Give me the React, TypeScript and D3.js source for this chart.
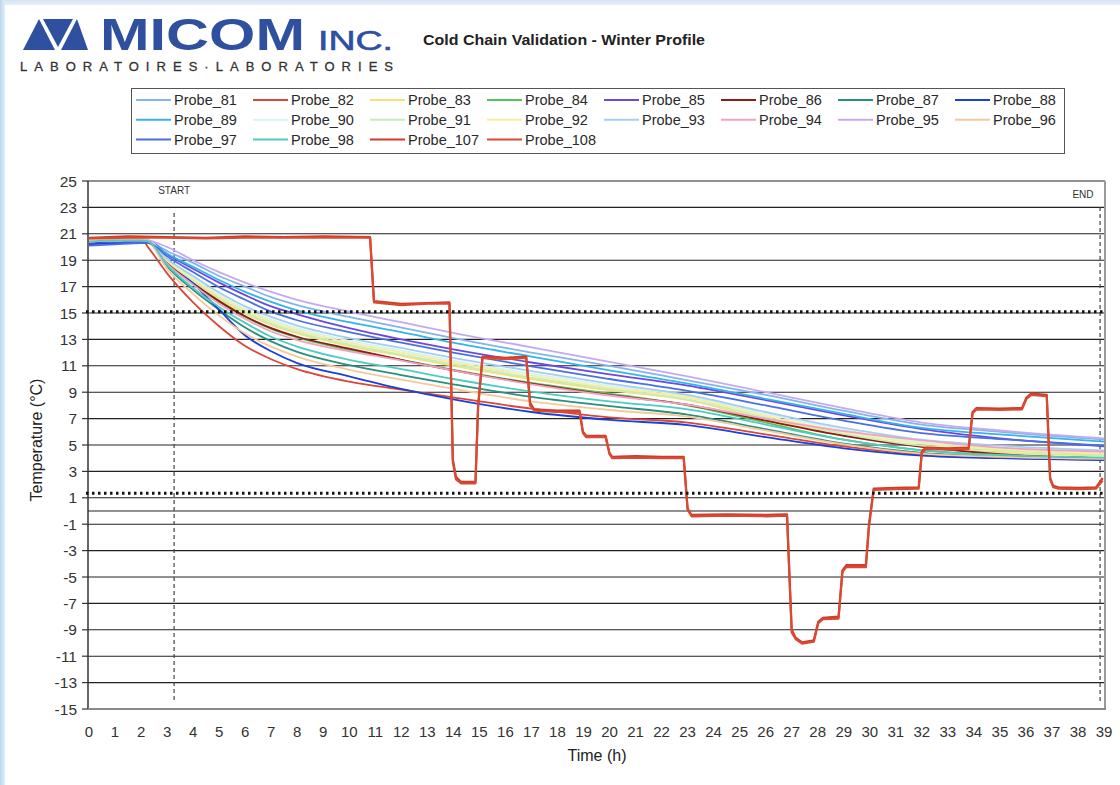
import React from 'react';
import * as d3 from 'd3';

const W = 1120;
const H = 785;

// hours at which the cooling probes were read
const TIMES = [0, 1, 2, 2.3, 3, 4, 5, 6, 7, 8, 10, 12, 14, 17, 20, 23, 26, 29, 32, 35, 39];

const P81 = [20.4, 20.5, 20.5, 20.4, 19.7, 18.8, 17.8, 17.0, 16.2, 15.6, 14.7, 13.9, 13.1, 12.0, 11.0, 9.9, 8.8, 7.6, 6.55, 6.0, 5.4];
const P82 = [20.6, 20.7, 20.6, 19.9, 18.0, 15.8, 14.0, 12.5, 11.5, 10.75, 9.8, 9.2, 8.6, 7.75, 7.1, 6.7, 5.8, 4.9, 4.3, 4.05, 3.9];
const P83 = [20.5, 20.6, 20.6, 20.5, 18.9, 17.4, 16.05, 14.95, 14.1, 13.45, 12.5, 11.75, 11.0, 10.0, 9.15, 8.4, 6.95, 5.8, 4.9, 4.45, 4.2];
const P84 = [20.5, 20.5, 20.6, 20.4, 18.8, 17.2, 15.85, 14.7, 13.8, 13.15, 12.2, 11.45, 10.7, 9.7, 8.9, 8.0, 6.7, 5.4, 4.6, 4.25, 4.0];
const P85 = [20.3, 20.4, 20.4, 20.4, 19.45, 18.35, 17.3, 16.35, 15.5, 14.9, 13.85, 13.0, 12.25, 11.25, 10.35, 9.5, 8.4, 7.25, 6.2, 5.5, 4.9];
const P86 = [20.5, 20.6, 20.6, 20.4, 18.85, 17.25, 15.9, 14.75, 13.85, 13.2, 12.3, 11.45, 10.65, 9.65, 8.8, 8.05, 6.85, 5.7, 4.85, 4.3, 4.0];
const P87 = [20.5, 20.5, 20.6, 20.4, 18.55, 16.75, 15.25, 13.9, 12.85, 12.05, 11.05, 10.3, 9.6, 8.65, 7.95, 7.3, 6.2, 5.1, 4.4, 4.1, 3.9];
const P88 = [20.2, 20.3, 20.3, 20.3, 19.0, 17.25, 15.25, 13.3, 12.1, 11.2, 10.2, 9.25, 8.45, 7.5, 6.9, 6.5, 5.6, 4.75, 4.2, 4.0, 3.85];
const P89 = [20.4, 20.5, 20.5, 20.4, 19.5, 18.5, 17.5, 16.6, 15.85, 15.2, 14.3, 13.55, 12.75, 11.7, 10.65, 9.65, 8.5, 7.35, 6.3, 5.8, 5.25];
const P90 = [20.5, 20.5, 20.6, 20.5, 19.05, 17.65, 16.4, 15.3, 14.5, 13.85, 12.9, 12.15, 11.4, 10.4, 9.5, 8.7, 7.35, 6.15, 5.2, 4.8, 4.5];
const P91 = [20.5, 20.5, 20.6, 20.5, 18.95, 17.45, 16.15, 15.05, 14.2, 13.55, 12.6, 11.85, 11.1, 10.1, 9.25, 8.45, 7.1, 5.85, 4.95, 4.6, 4.25];
const P92 = [20.5, 20.6, 20.6, 20.5, 19.0, 17.55, 16.25, 15.2, 14.35, 13.7, 12.75, 12.0, 11.25, 10.25, 9.35, 8.6, 7.2, 6.0, 5.1, 4.7, 4.35];
const P93 = [20.4, 20.5, 20.5, 20.4, 19.1, 17.8, 16.55, 15.5, 14.7, 14.05, 13.1, 12.35, 11.6, 10.6, 9.65, 8.8, 7.5, 6.3, 5.4, 4.95, 4.6];
const P94 = [20.4, 20.5, 20.5, 20.4, 18.75, 17.15, 15.7, 14.55, 13.6, 12.95, 12.1, 11.4, 10.65, 9.6, 8.75, 8.05, 7.0, 6.05, 5.35, 4.8, 4.5];
const P95 = [20.5, 20.6, 20.6, 20.5, 20.0, 19.0, 18.1, 17.3, 16.6, 16.0, 15.1, 14.3, 13.5, 12.4, 11.3, 10.2, 9.0, 7.8, 6.7, 6.1, 5.5];
const P96 = [20.5, 20.6, 20.6, 20.4, 18.35, 16.45, 14.8, 13.45, 12.45, 11.7, 10.7, 9.95, 9.25, 8.3, 7.65, 7.15, 6.1, 5.05, 4.35, 4.1, 3.95];
const P97 = [20.1, 20.2, 20.3, 20.3, 19.3, 18.1, 16.95, 16.0, 15.1, 14.45, 13.55, 12.75, 12.0, 10.95, 10.0, 9.1, 8.0, 6.85, 5.9, 5.45, 4.95];
const P98 = [20.4, 20.5, 20.5, 20.4, 18.65, 16.9, 15.45, 14.25, 13.2, 12.45, 11.45, 10.75, 10.0, 9.05, 8.3, 7.7, 6.55, 5.4, 4.6, 4.25, 4.05];

// the two excursion probes (stepped profile)
const T_STEP = [
  0, 1.5, 3, 4.5, 6, 7.5, 9, 10.8,
  10.95, 12, 13, 13.85,
  13.98, 14.1, 14.3, 14.85,
  14.95, 15.12, 16, 16.8,
  16.95, 17.1, 18, 18.85,
  18.98, 19.1, 19.85, 20.0,
  20.1, 21, 22, 22.85,
  23.0, 23.15, 24.5, 26,
  26.82, 27.0, 27.15, 27.4,
  27.85, 28.02, 28.2, 28.8,
  28.95, 29.1, 29.85, 29.97,
  30.15, 31, 31.88, 32.0,
  32.15, 33, 33.8, 33.95,
  34.1, 35, 35.85, 36.02,
  36.2, 36.8, 36.93, 37.05,
  37.25, 38, 38.7, 38.95,
];
const P107 = [
  20.7, 20.8, 20.75, 20.7, 20.8, 20.75, 20.8, 20.75,
  15.9, 15.7, 15.75, 15.8,
  3.9, 2.6, 2.2, 2.2,
  8.0, 11.7, 11.6, 11.7,
  8.2, 7.7, 7.6, 7.6,
  6.0, 5.7, 5.7, 4.4,
  4.1, 4.15, 4.1, 4.1,
  0.2, -0.3, -0.25, -0.3,
  -0.25, -9.0, -9.6, -9.95,
  -9.8, -8.4, -8.1, -8.0,
  -4.5, -4.1, -4.1, -1.0,
  1.7, 1.75, 1.8, 4.5,
  4.8, 4.75, 4.8, 7.5,
  7.8, 7.75, 7.8, 8.6,
  8.9, 8.8, 2.5, 1.9,
  1.8, 1.75, 1.8, 2.5,
];
const P108 = [
  20.65, 20.7, 20.7, 20.65, 20.7, 20.7, 20.7, 20.7,
  15.8, 15.6, 15.7, 15.7,
  3.7, 2.4, 2.1, 2.1,
  7.8, 11.6, 11.5, 11.6,
  8.0, 7.6, 7.5, 7.5,
  5.9, 5.6, 5.6, 4.3,
  4.0, 4.05, 4.0, 4.0,
  0.1, -0.4, -0.35, -0.4,
  -0.35, -9.2, -9.7, -10.05,
  -9.9, -8.5, -8.2, -8.15,
  -4.6, -4.25, -4.25, -1.2,
  1.6, 1.65, 1.7, 4.4,
  4.7, 4.65, 4.7, 7.4,
  7.7, 7.65, 7.7, 8.5,
  8.8, 8.7, 2.4, 1.8,
  1.7, 1.65, 1.7, 2.3,
];

const X_TICKS = d3.range(0, 40, 1);
const Y_TICKS = d3.range(-15, 26, 2);
const LIMIT_HIGH = 15.1;
const LIMIT_LOW = 1.35;
const START_T = 3.27;
const END_T = 38.85;

type Probe = { name: string; color: string; values: number[]; times: number[]; step?: boolean };

const PROBES: Probe[] = [
  { name: 'Probe_81', color: '#84b5ea', values: P81, times: TIMES },
  { name: 'Probe_82', color: '#d9473a', values: P82, times: TIMES },
  { name: 'Probe_83', color: '#f2e27c', values: P83, times: TIMES },
  { name: 'Probe_84', color: '#58c258', values: P84, times: TIMES },
  { name: 'Probe_85', color: '#6a49e3', values: P85, times: TIMES },
  { name: 'Probe_86', color: '#8e1b14', values: P86, times: TIMES },
  { name: 'Probe_87', color: '#2a8f7f', values: P87, times: TIMES },
  { name: 'Probe_88', color: '#1c3fd6', values: P88, times: TIMES },
  { name: 'Probe_89', color: '#36b3ea', values: P89, times: TIMES },
  { name: 'Probe_90', color: '#d4f3f2', values: P90, times: TIMES },
  { name: 'Probe_91', color: '#c6ecbe', values: P91, times: TIMES },
  { name: 'Probe_92', color: '#f3ef9c', values: P92, times: TIMES },
  { name: 'Probe_93', color: '#a5cef2', values: P93, times: TIMES },
  { name: 'Probe_94', color: '#eea2c4', values: P94, times: TIMES },
  { name: 'Probe_95', color: '#c4aaf2', values: P95, times: TIMES },
  { name: 'Probe_96', color: '#f6c89a', values: P96, times: TIMES },
  { name: 'Probe_97', color: '#4a6fe3', values: P97, times: TIMES },
  { name: 'Probe_98', color: '#4fcbc2', values: P98, times: TIMES },
  { name: 'Probe_107', color: '#d23b27', values: P107, times: T_STEP, step: true },
  { name: 'Probe_108', color: '#d84a33', values: P108, times: T_STEP, step: true },
];

const FONT = "'Liberation Sans', Arial, Helvetica, sans-serif";
const LOGO_BLUE = '#2f509e';

export default function App() {
  const x = d3.scaleLinear().domain([0, 39]).range([89, 1104]);
  const y = d3.scaleLinear().domain([-15, 25]).range([709, 181]);
  const smooth = d3
    .line<[number, number]>()
    .x((d) => x(d[0]))
    .y((d) => y(d[1]))
    .curve(d3.curveMonotoneX);
  const straight = d3
    .line<[number, number]>()
    .x((d) => x(d[0]))
    .y((d) => y(d[1]));

  const plotL = 88;
  const plotR = 1105;
  const plotT = y(25);
  const plotB = y(-15);

  const legendX0 = 136;
  const legendDX = 117;
  const legendY0 = 100;
  const legendDY = 19.8;

  return (
    <svg
      width={W}
      height={H}
      viewBox={`0 0 ${W} ${H}`}
      style={{ position: 'absolute', left: 0, top: 0, display: 'block' }}
      fontFamily={FONT}
    >
      <defs>
        <linearGradient id="edgeL" x1="0" x2="1" y1="0" y2="0">
          <stop offset="0" stopColor="#bcd6f1" />
          <stop offset="1" stopColor="#e2edf9" />
        </linearGradient>
        <linearGradient id="edgeT" x1="0" x2="0" y1="0" y2="1">
          <stop offset="0" stopColor="#d3e3f6" />
          <stop offset="1" stopColor="#e6eff9" />
        </linearGradient>
      </defs>
      <rect x={0} y={0} width={W} height={H} fill="#ffffff" />
      <rect x={0} y={0} width={W} height={5} fill="url(#edgeT)" />
      <rect x={0} y={0} width={5} height={H} fill="url(#edgeL)" />

      {/* logo */}
      <g fill={LOGO_BLUE}>
        <polygon points="23,50 39,19 55,50" />
        <polygon points="43,19 73,19 58,47" />
        <polygon points="61,50 77,19 88,50" />
      </g>
      <text x={100} y={50} fontSize={44} fontWeight="bold" fill={LOGO_BLUE} textLength={205} lengthAdjust="spacingAndGlyphs">
        MICOM
      </text>
      <text x={318} y={50} fontSize={27} fill={LOGO_BLUE} stroke={LOGO_BLUE} strokeWidth={0.6} textLength={75} lengthAdjust="spacingAndGlyphs">
        INC.
      </text>
      <text x={20} y={71} fontSize={13} fill="#333" stroke="#333" strokeWidth={0.3} textLength={373} lengthAdjust="spacing">
        LABORATOIRES·LABORATORIES
      </text>

      {/* title */}
      <text x={423} y={45} fontSize={15.5} fontWeight="bold" fill="#222" textLength={282} lengthAdjust="spacingAndGlyphs">
        Cold Chain Validation - Winter Profile
      </text>

      {/* legend */}
      <rect x={131.5} y={88.5} width={933} height={65} fill="#fff" stroke="#555" strokeWidth={1} />
      {PROBES.map((p, i) => {
        const col = i % 8;
        const row = Math.floor(i / 8);
        const lx = legendX0 + col * legendDX;
        const ly = legendY0 + row * legendDY;
        return (
          <g key={p.name}>
            <line x1={lx} x2={lx + 35} y1={ly} y2={ly} stroke={p.color} strokeWidth={2} />
            <text x={lx + 38} y={ly + 5} fontSize={14.5} fill="#2a2a2a">
              {p.name}
            </text>
          </g>
        );
      })}

      {/* gridlines */}
      {Y_TICKS.map((v) => (
        <line key={'g' + v} x1={plotL} x2={plotR} y1={y(v)} y2={y(v)} stroke="#222" strokeWidth={1.1} />
      ))}
      <line x1={plotL} x2={plotR} y1={y(0)} y2={y(0)} stroke="#222" strokeWidth={1.1} />

      {/* y axis */}
      <line x1={plotL} x2={plotL} y1={plotT} y2={plotB} stroke="#333" strokeWidth={1.5} />
      {Y_TICKS.map((v) => (
        <g key={'yt' + v}>
          <line x1={plotL - 6} x2={plotL} y1={y(v)} y2={y(v)} stroke="#333" strokeWidth={1.2} />
          <text x={77} y={y(v) + 5.5} fontSize={15.5} textAnchor="end" fill="#333">
            {v}
          </text>
        </g>
      ))}
      {/* x axis labels */}
      {X_TICKS.map((v) => (
        <text key={'xt' + v} x={x(v)} y={737} fontSize={15} textAnchor="middle" fill="#333">
          {v}
        </text>
      ))}
      <line x1={plotR} x2={plotR} y1={plotT} y2={plotB} stroke="#999" strokeWidth={2} />
      <line x1={plotL} x2={plotR + 1} y1={plotB} y2={plotB} stroke="#888" strokeWidth={2} />

      {/* axis titles */}
      <text x={597} y={761} fontSize={16} textAnchor="middle" fill="#222">
        Time (h)
      </text>
      <text transform={`translate(42,440) rotate(-90)`} fontSize={16} textAnchor="middle" fill="#222">
        Temperature (°C)
      </text>

      {/* start / end markers */}
      <line x1={x(START_T)} x2={x(START_T)} y1={213} y2={702} stroke="#444" strokeWidth={1.2} strokeDasharray="4,3" />
      <line x1={x(END_T)} x2={x(END_T)} y1={207} y2={702} stroke="#444" strokeWidth={1.2} strokeDasharray="4,3" />
      <text x={x(START_T)} y={194} fontSize={10} textAnchor="middle" fill="#333">
        START
      </text>
      <text x={1083} y={198} fontSize={10} textAnchor="middle" fill="#333">
        END
      </text>

      {/* probe lines */}
      {PROBES.map((p) => {
        const pts = p.times.map((t, i) => [t, p.values[i]] as [number, number]);
        return (
          <path
            key={'l' + p.name}
            d={(p.step ? straight : smooth)(pts) || ''}
            fill="none"
            stroke={p.color}
            strokeWidth={p.step ? 2.2 : 1.8}
            strokeLinejoin="round"
          />
        );
      })}

      {/* limit lines */}
      <line x1={86} x2={plotR} y1={y(LIMIT_HIGH)} y2={y(LIMIT_HIGH)} stroke="#111" strokeWidth={3} strokeDasharray="2.5,3.5" />
      <line x1={86} x2={plotR} y1={y(LIMIT_LOW)} y2={y(LIMIT_LOW)} stroke="#111" strokeWidth={3} strokeDasharray="2.5,3.5" />
    </svg>
  );
}
